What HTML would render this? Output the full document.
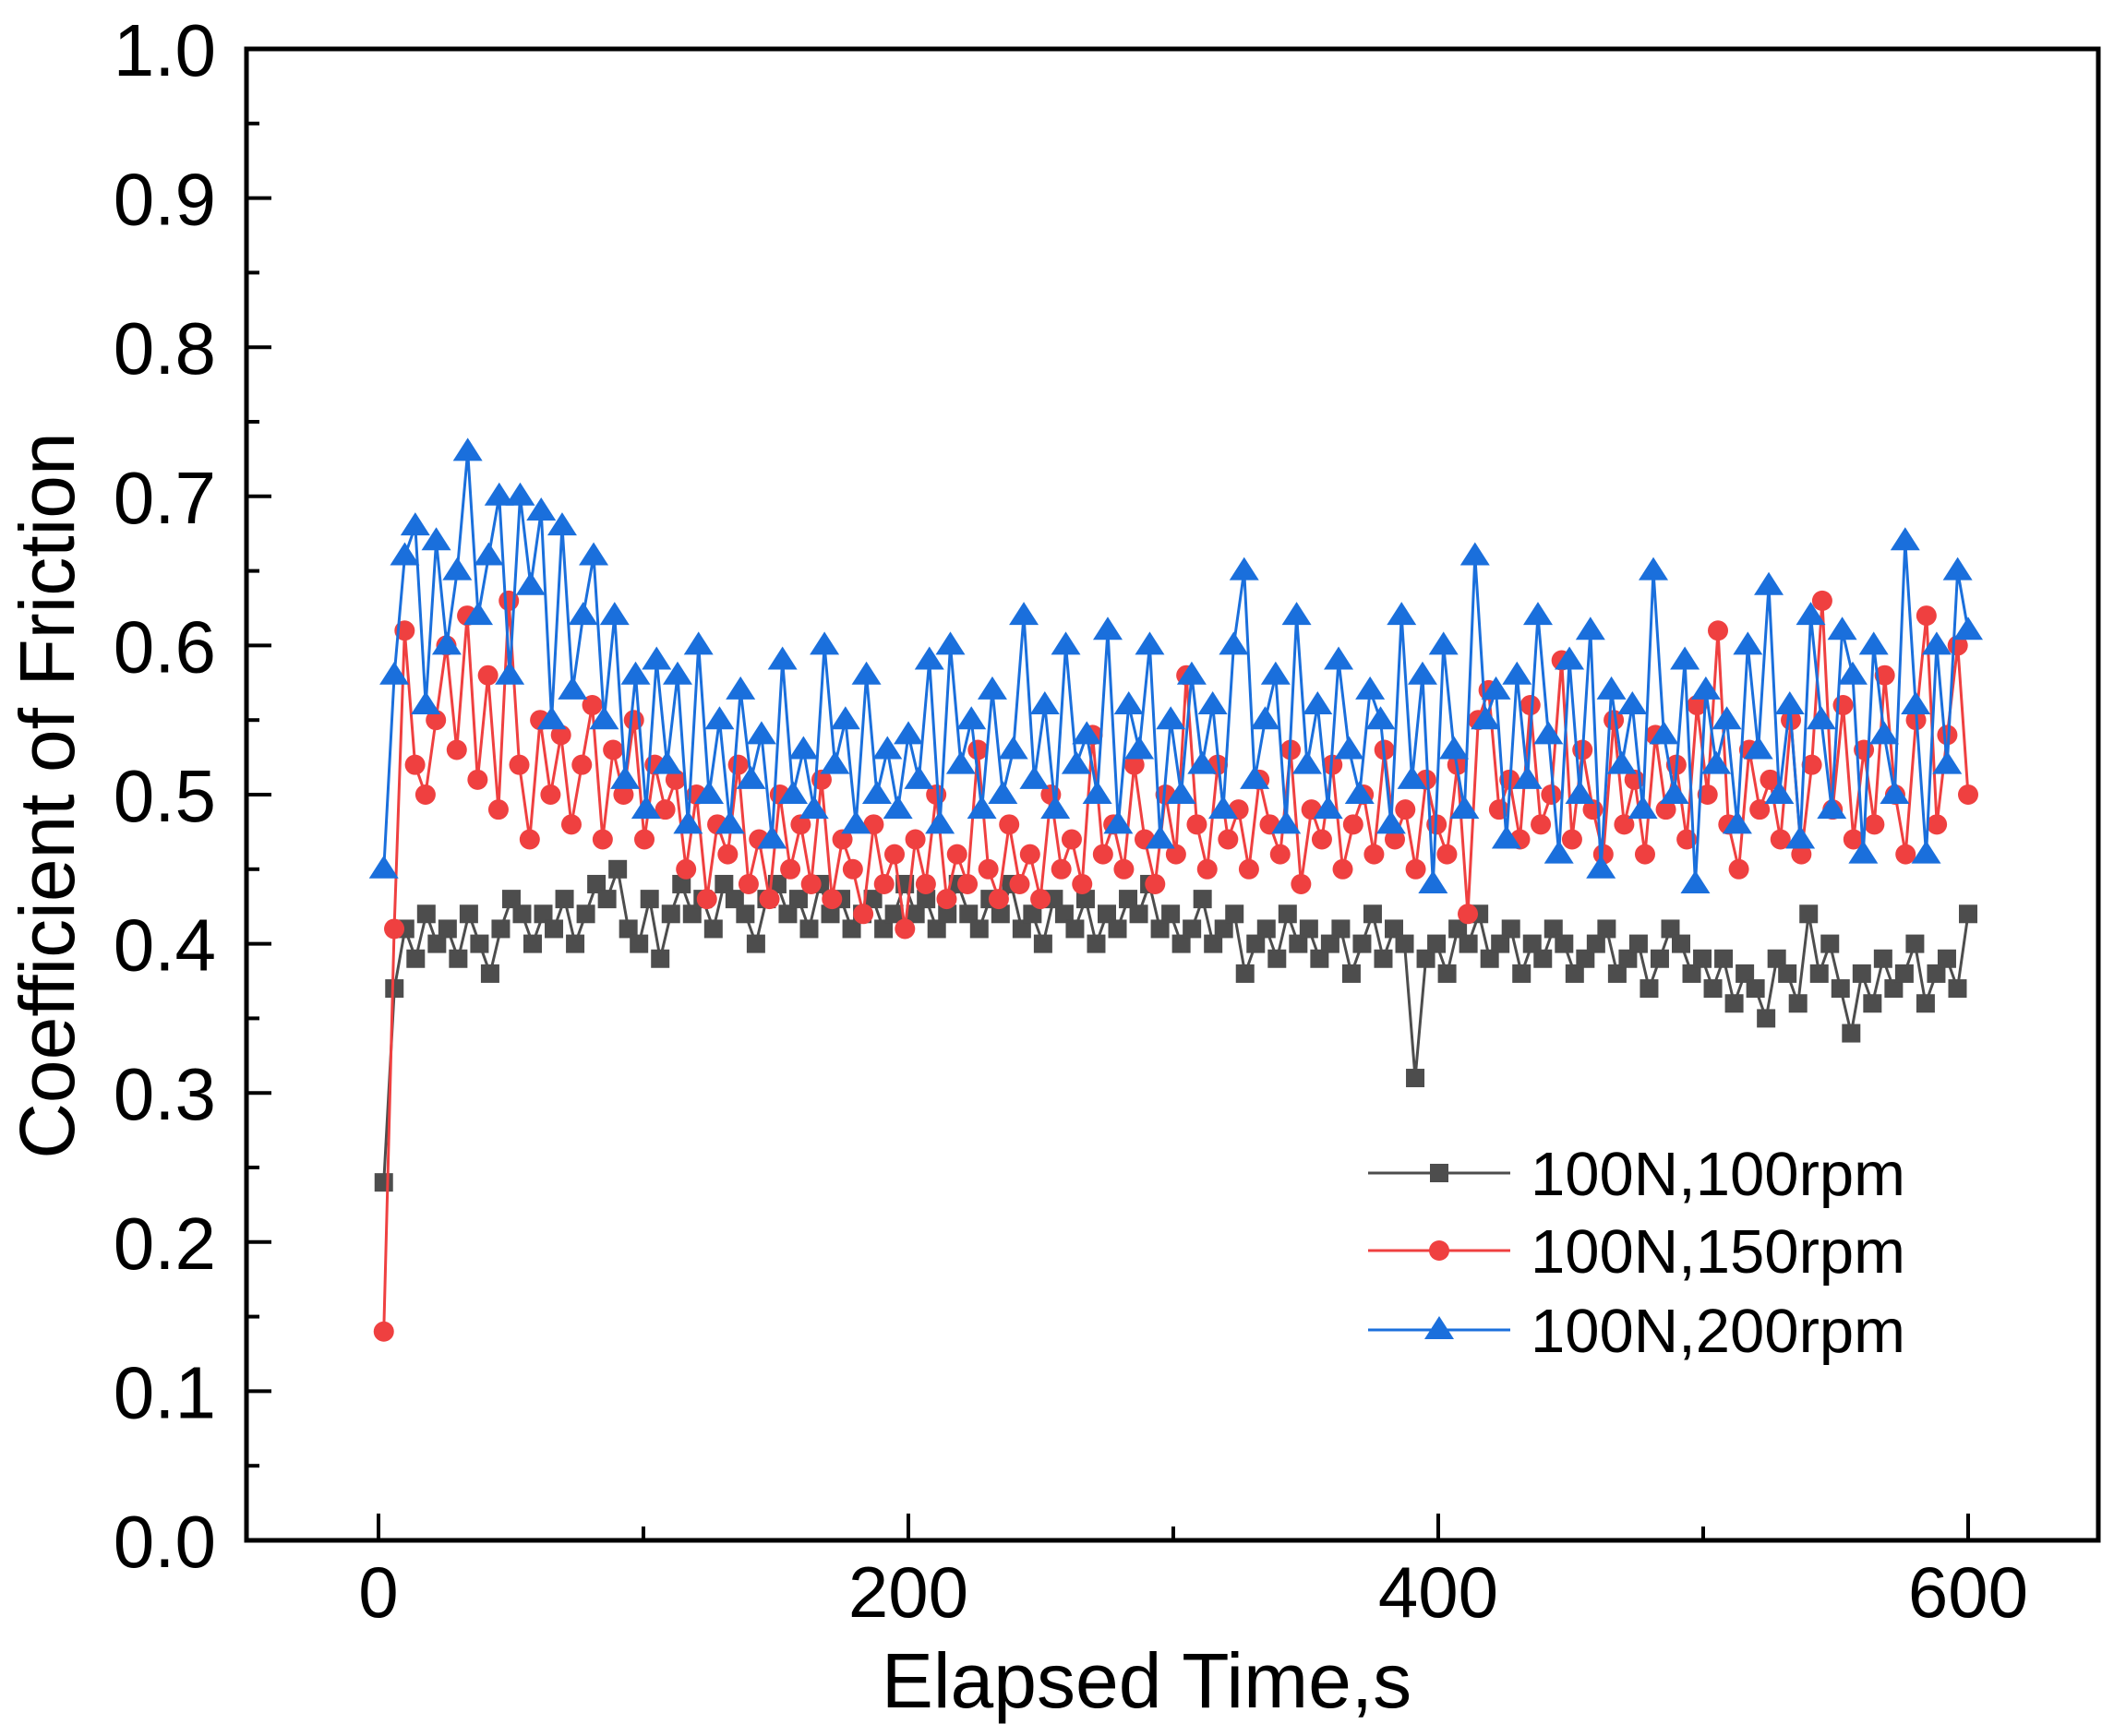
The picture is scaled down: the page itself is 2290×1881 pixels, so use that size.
<!DOCTYPE html>
<html><head><meta charset="utf-8"><style>
html,body{margin:0;padding:0;background:#fff}
svg{display:block;font-family:"Liberation Sans",Arial,sans-serif}
</style></head><body>
<svg id="chart" width="2290" height="1881" viewBox="0 0 2290 1881" xmlns="http://www.w3.org/2000/svg">
<g id="marks"></g>
<g id="axes"></g>
<text x="0" y="0" transform="translate(80,862) rotate(-90)" text-anchor="middle" font-size="84">Coefficient of Friction</text>
<text x="1242" y="1850" text-anchor="middle" font-size="84">Elapsed Time,s</text>
<g id="legend"></g>
</svg>
<script>
const seriesNames = ["100N,100rpm","100N,150rpm","100N,200rpm"];
const yTicks = [0,0.1,0.2,0.3,0.4,0.5,0.6,0.7,0.8,0.9,1.0];
const xTicks = [0,200,400,600];
const black = [0.24,0.37,0.41,0.39,0.42,0.40,0.41,0.39,0.42,0.40,0.38,0.41,0.43,0.42,0.40,0.42,0.41,0.43,0.40,0.42,0.44,0.43,0.45,0.41,0.40,0.43,0.39,0.42,0.44,0.42,0.43,0.41,0.44,0.43,0.42,0.40,0.43,0.44,0.42,0.43,0.41,0.44,0.42,0.43,0.41,0.42,0.43,0.41,0.42,0.44,0.42,0.43,0.41,0.42,0.44,0.42,0.41,0.43,0.42,0.44,0.41,0.42,0.40,0.43,0.42,0.41,0.43,0.40,0.42,0.41,0.43,0.42,0.44,0.41,0.42,0.40,0.41,0.43,0.40,0.41,0.42,0.38,0.40,0.41,0.39,0.42,0.40,0.41,0.39,0.40,0.41,0.38,0.40,0.42,0.39,0.41,0.40,0.31,0.39,0.40,0.38,0.41,0.40,0.42,0.39,0.40,0.41,0.38,0.40,0.39,0.41,0.40,0.38,0.39,0.40,0.41,0.38,0.39,0.40,0.37,0.39,0.41,0.40,0.38,0.39,0.37,0.39,0.36,0.38,0.37,0.35,0.39,0.38,0.36,0.42,0.38,0.40,0.37,0.34,0.38,0.36,0.39,0.37,0.38,0.40,0.36,0.38,0.39,0.37,0.42];
const red = [0.14,0.41,0.61,0.52,0.50,0.55,0.60,0.53,0.62,0.51,0.58,0.49,0.63,0.52,0.47,0.55,0.50,0.54,0.48,0.52,0.56,0.47,0.53,0.50,0.55,0.47,0.52,0.49,0.51,0.45,0.50,0.43,0.48,0.46,0.52,0.44,0.47,0.43,0.50,0.45,0.48,0.44,0.51,0.43,0.47,0.45,0.42,0.48,0.44,0.46,0.41,0.47,0.44,0.50,0.43,0.46,0.44,0.53,0.45,0.43,0.48,0.44,0.46,0.43,0.50,0.45,0.47,0.44,0.54,0.46,0.48,0.45,0.52,0.47,0.44,0.50,0.46,0.58,0.48,0.45,0.52,0.47,0.49,0.45,0.51,0.48,0.46,0.53,0.44,0.49,0.47,0.52,0.45,0.48,0.50,0.46,0.53,0.47,0.49,0.45,0.51,0.48,0.46,0.52,0.42,0.55,0.57,0.49,0.51,0.47,0.56,0.48,0.50,0.59,0.47,0.53,0.49,0.46,0.55,0.48,0.51,0.46,0.54,0.49,0.52,0.47,0.56,0.50,0.61,0.48,0.45,0.53,0.49,0.51,0.47,0.55,0.46,0.52,0.63,0.49,0.56,0.47,0.53,0.48,0.58,0.50,0.46,0.55,0.62,0.48,0.54,0.60,0.50];
const blue = [0.45,0.58,0.66,0.68,0.56,0.67,0.60,0.65,0.73,0.62,0.66,0.70,0.58,0.70,0.64,0.69,0.55,0.68,0.57,0.62,0.66,0.55,0.62,0.51,0.58,0.49,0.59,0.52,0.58,0.48,0.60,0.50,0.55,0.48,0.57,0.51,0.54,0.47,0.59,0.50,0.53,0.49,0.60,0.52,0.55,0.48,0.58,0.50,0.53,0.49,0.54,0.51,0.59,0.48,0.60,0.52,0.55,0.49,0.57,0.50,0.53,0.62,0.51,0.56,0.49,0.60,0.52,0.54,0.50,0.61,0.48,0.56,0.53,0.60,0.47,0.55,0.50,0.58,0.52,0.56,0.49,0.60,0.65,0.51,0.55,0.58,0.48,0.62,0.52,0.56,0.49,0.59,0.53,0.50,0.57,0.55,0.48,0.62,0.51,0.58,0.44,0.60,0.53,0.49,0.66,0.55,0.57,0.47,0.58,0.51,0.62,0.54,0.46,0.59,0.50,0.61,0.45,0.57,0.52,0.56,0.49,0.65,0.54,0.50,0.59,0.44,0.57,0.52,0.55,0.48,0.60,0.53,0.64,0.50,0.56,0.47,0.62,0.55,0.49,0.61,0.58,0.46,0.60,0.54,0.50,0.67,0.56,0.46,0.60,0.52,0.65,0.61];
const tStart = 2, tEnd = 600;

const NS = "http://www.w3.org/2000/svg";
const L = 267, R = 2273, T = 53, B = 1669;
const X0 = 410, XPX = 574/200;
function xs(t){ return X0 + t*XPX; }
function ys(v){ return B - v*(B-T); }
function mk(tag, attrs, parent){ const e=document.createElementNS(NS,tag); for(const k in attrs) e.setAttribute(k,attrs[k]); parent.appendChild(e); return e; }

const marks = document.getElementById('marks');
const colors = ["#4d4d4d","#ef4040","#1a6fdc"];
const shapes = ["square","circle","triangle"];
function marker(shape, cx, cy, color, parent){
  let e;
  if(shape==="square") e = mk('rect',{x:cx-10,y:cy-10,width:20,height:20,fill:color},parent);
  else if(shape==="circle") e = mk('circle',{cx:cx,cy:cy,r:11,fill:color},parent);
  else e = mk('polygon',{points:`${cx},${cy-15} ${cx+16},${cy+10} ${cx-16},${cy+10}`,fill:color},parent);
  return e;
}
[black, red, blue].forEach((vals, si) => {
  const g = mk('g',{},marks);
  
  
  const n = vals.length;
  const pts = vals.map((v,i) => [xs(tStart + i*(tEnd-tStart)/(n-1)), ys(v)]);
  const line = mk('polyline',{points:pts.map(p=>p.join(',')).join(' '),fill:'none',stroke:colors[si],'stroke-width':3},g);
  
  
  pts.forEach(p => {
    const m = marker(shapes[si], p[0], p[1], colors[si], g);
    
    
  });
});

const axes = document.getElementById('axes');
const frame = mk('rect',{x:L,y:T,width:R-L,height:B-T,fill:'none',stroke:'#000','stroke-width':5},axes);


yTicks.forEach((v,i) => {
  const y = ys(v);
  mk('line',{x1:L,y1:y,x2:L+27,y2:y,stroke:'#000','stroke-width':4},axes);
  if(i < yTicks.length-1){ const ym = ys(v+0.05); mk('line',{x1:L,y1:ym,x2:L+14,y2:ym,stroke:'#000','stroke-width':4},axes); }
  const t = mk('text',{x:234,y:y+29,'text-anchor':'end','font-size':80},axes);
  t.textContent = v.toFixed(1);
  
  
});
xTicks.forEach((v,i) => {
  const x = xs(v);
  mk('line',{x1:x,y1:B,x2:x,y2:B-29,stroke:'#000','stroke-width':4},axes);
  if(i < xTicks.length-1){ const xm = xs(v+100); mk('line',{x1:xm,y1:B,x2:xm,y2:B-15,stroke:'#000','stroke-width':4},axes); }
  const t = mk('text',{x:x,y:1752,'text-anchor':'middle','font-size':78},axes);
  t.textContent = String(v);
  
  
});

const legend = document.getElementById('legend');
const rowsY = [1271,1355,1441];
seriesNames.forEach((name,i) => {
  const g = mk('g',{},legend);
  
  
  mk('line',{x1:1482,y1:rowsY[i],x2:1636,y2:rowsY[i],stroke:colors[i],'stroke-width':3},g);
  marker(shapes[i], 1559, rowsY[i], colors[i], g);
  const t = mk('text',{x:1658,y:rowsY[i]+24,'font-size':67},g);
  t.textContent = name;
});
</script>
</body></html>
